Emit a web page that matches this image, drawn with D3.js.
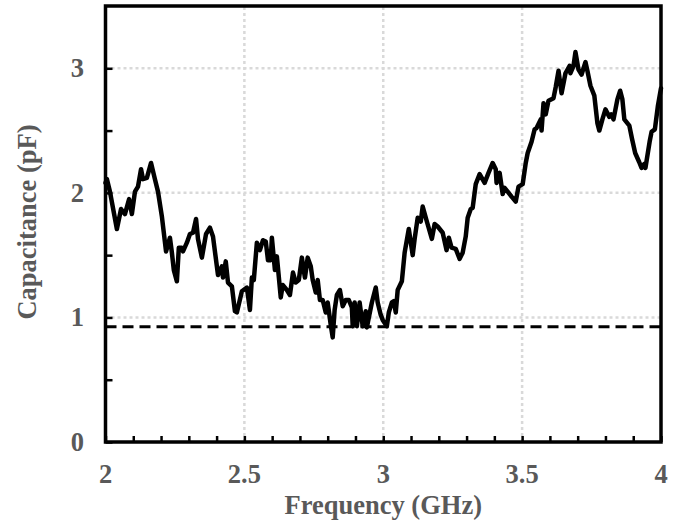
<!DOCTYPE html>
<html>
<head>
<meta charset="utf-8">
<script src="https://cdn.jsdelivr.net/npm/d3@7"></script>
<style>
  body { margin: 0; background: #fff; }
  svg { display: block; }
</style>
</head>
<body>
<div id="chart"></div>
<script>
// frequency samples (GHz)
const freqGHz = [
  2.000, 2.005, 2.016, 2.041, 2.056, 2.070, 2.085, 2.095, 2.106, 2.117,
  2.128, 2.135, 2.149, 2.164, 2.178, 2.189, 2.203, 2.218, 2.232, 2.239,
  2.246, 2.257, 2.264, 2.275, 2.279, 2.293, 2.304, 2.315, 2.326, 2.333,
  2.347, 2.362, 2.376, 2.387, 2.405, 2.419, 2.423, 2.433, 2.441, 2.455,
  2.466, 2.473, 2.491, 2.509, 2.520, 2.527, 2.534, 2.545, 2.556, 2.567,
  2.577, 2.585, 2.595, 2.599, 2.610, 2.617, 2.631, 2.638, 2.653, 2.664,
  2.675, 2.685, 2.696, 2.707, 2.718, 2.728, 2.739, 2.746, 2.757, 2.764,
  2.772, 2.782, 2.793, 2.800, 2.811, 2.818, 2.825, 2.833, 2.844, 2.854,
  2.865, 2.876, 2.887, 2.890, 2.897, 2.905, 2.915, 2.926, 2.937, 2.941,
  2.959, 2.973, 2.980, 2.991, 2.998, 3.013, 3.020, 3.031, 3.038, 3.045,
  3.052, 3.067, 3.077, 3.092, 3.106, 3.113, 3.124, 3.135, 3.142, 3.157,
  3.175, 3.185, 3.196, 3.214, 3.228, 3.236, 3.246, 3.261, 3.275, 3.286,
  3.297, 3.304, 3.315, 3.322, 3.333, 3.347, 3.365, 3.379, 3.394, 3.405,
  3.408, 3.419, 3.430, 3.437, 3.448, 3.462, 3.477, 3.487, 3.502, 3.513,
  3.520, 3.534, 3.545, 3.552, 3.567, 3.570, 3.577, 3.585, 3.595, 3.613,
  3.621, 3.631, 3.642, 3.656, 3.671, 3.674, 3.685, 3.692, 3.703, 3.714,
  3.728, 3.735, 3.746, 3.760, 3.771, 3.778, 3.789, 3.800, 3.814, 3.821,
  3.829, 3.843, 3.853, 3.861, 3.868, 3.886, 3.896, 3.907, 3.921, 3.930,
  3.939, 3.944, 3.959, 3.966, 3.978, 3.989, 4.000
];

// measured capacitance (pF)
const capacitancePF = [
  2.08, 2.11, 2.01, 1.71, 1.87, 1.83, 1.95, 1.83, 2.01, 2.05,
  2.19, 2.11, 2.12, 2.24, 2.11, 2.01, 1.81, 1.53, 1.64, 1.52,
  1.38, 1.29, 1.56, 1.56, 1.53, 1.60, 1.67, 1.68, 1.79, 1.63,
  1.48, 1.67, 1.72, 1.65, 1.34, 1.41, 1.32, 1.45, 1.28, 1.25,
  1.05, 1.04, 1.21, 1.24, 1.06, 1.32, 1.30, 1.60, 1.54, 1.62,
  1.61, 1.46, 1.46, 1.64, 1.38, 1.49, 1.16, 1.26, 1.22, 1.18,
  1.36, 1.28, 1.30, 1.48, 1.32, 1.48, 1.41, 1.30, 1.20, 1.30,
  1.14, 1.14, 1.04, 1.12, 0.94, 0.84, 1.06, 1.18, 1.22, 1.09,
  1.14, 1.14, 1.08, 0.93, 1.12, 0.93, 1.12, 0.93, 1.05, 0.92,
  1.12, 1.24, 1.12, 1.02, 0.98, 0.93, 1.04, 1.12, 1.13, 1.04,
  1.22, 1.29, 1.52, 1.71, 1.50, 1.63, 1.80, 1.77, 1.89, 1.77,
  1.63, 1.75, 1.73, 1.68, 1.54, 1.64, 1.56, 1.55, 1.47, 1.52,
  1.65, 1.80, 1.87, 1.88, 2.07, 2.15, 2.08, 2.16, 2.24, 2.19,
  2.08, 2.16, 1.99, 2.04, 2.01, 1.97, 1.93, 2.05, 2.07, 2.24,
  2.32, 2.41, 2.51, 2.52, 2.59, 2.50, 2.72, 2.63, 2.74, 2.76,
  2.85, 2.98, 2.80, 2.96, 3.02, 2.96, 3.02, 3.13, 2.99, 2.95,
  3.05, 2.98, 2.86, 2.78, 2.56, 2.50, 2.59, 2.67, 2.61, 2.63,
  2.59, 2.75, 2.82, 2.75, 2.59, 2.54, 2.43, 2.32, 2.25, 2.20,
  2.23, 2.20, 2.41, 2.49, 2.51, 2.70, 2.84
];

// reference level shown dashed
const thresholdPF = 0.925;

const xTickValues = [2, 2.5, 3, 3.5, 4];
const xTickLabels = ['2', '2.5', '3', '3.5', '4'];
const xMinorTicks = d3.range(20, 41).map(d => d / 10);
const xGridValues = [2.5, 3, 3.5];

const yTickValues = [0, 1, 2, 3];
const yTickLabels = ['0', '1', '2', '3'];
const yMinorTicks = [0, 0.5, 1, 1.5, 2, 2.5, 3];
const yGridValues = [1, 2, 3];

const width = 682;
const height = 529;
const margin = {top: 6, right: 21, bottom: 87, left: 105.5};
const labelFont = '"Liberation Serif", "Times New Roman", serif';
const labelColor = '#595959';

const svg = d3.select('#chart')
  .append('svg')
  .attr('width', width)
  .attr('height', height);

const x = d3.scaleLinear()
  .domain([2, 4])
  .range([margin.left, width - margin.right]);

const y = d3.scaleLinear()
  .domain([0, 3.5])
  .range([height - margin.bottom, margin.top]);

// dotted grid
const grid = svg.append('g')
  .attr('stroke', '#d9d9d9')
  .attr('stroke-width', 2.5)
  .attr('stroke-dasharray', '3,3');

grid.selectAll('.gx')
  .data(xGridValues)
  .enter()
  .append('line')
  .attr('x1', d => x(d))
  .attr('x2', d => x(d))
  .attr('y1', y(0))
  .attr('y2', y(3.5));

grid.selectAll('.gy')
  .data(yGridValues)
  .enter()
  .append('line')
  .attr('x1', x(2))
  .attr('x2', x(4))
  .attr('y1', d => y(d))
  .attr('y2', d => y(d));

// dashed reference line
svg.append('line')
  .attr('x1', x(2))
  .attr('x2', x(4))
  .attr('y1', y(thresholdPF))
  .attr('y2', y(thresholdPF))
  .attr('stroke', '#000')
  .attr('stroke-width', 3)
  .attr('stroke-dasharray', '11,6');

// measured trace
const points = freqGHz.map((f, i) => [f, capacitancePF[i]]);
const line = d3.line()
  .x(d => x(d[0]))
  .y(d => y(d[1]));

svg.append('path')
  .datum(points)
  .attr('d', line)
  .attr('fill', 'none')
  .attr('stroke', '#000')
  .attr('stroke-width', 4.5)
  .attr('stroke-linejoin', 'round')
  .attr('stroke-linecap', 'round');

// inward ticks
const xAxis = d3.axisBottom(x)
  .tickValues(xMinorTicks)
  .tickSize(-6)
  .tickFormat('');

svg.append('g')
  .attr('transform', `translate(0,${y(0)})`)
  .call(xAxis)
  .call(g => g.select('.domain').remove())
  .call(g => g.selectAll('line').attr('stroke', '#000').attr('stroke-width', 2.5));

const yAxis = d3.axisLeft(y)
  .tickValues(yMinorTicks)
  .tickSize(-7)
  .tickFormat('');

svg.append('g')
  .attr('transform', `translate(${x(2)},0)`)
  .call(yAxis)
  .call(g => g.select('.domain').remove())
  .call(g => g.selectAll('line').attr('stroke', '#000').attr('stroke-width', 2.5));

// frame
svg.append('rect')
  .attr('x', x(2))
  .attr('y', y(3.5))
  .attr('width', x(4) - x(2))
  .attr('height', y(0) - y(3.5))
  .attr('fill', 'none')
  .attr('stroke', '#000')
  .attr('stroke-width', 3.5);

// tick labels
svg.append('g')
  .selectAll('text')
  .data(xTickValues)
  .enter()
  .append('text')
  .attr('x', d => x(d))
  .attr('y', 483)
  .attr('text-anchor', 'middle')
  .attr('font-family', labelFont)
  .attr('font-weight', 'bold')
  .attr('font-size', 26.5)
  .attr('fill', labelColor)
  .text((d, i) => xTickLabels[i]);

svg.append('g')
  .selectAll('text')
  .data(yTickValues)
  .enter()
  .append('text')
  .attr('x', 84)
  .attr('y', d => y(d))
  .attr('dy', '0.33em')
  .attr('text-anchor', 'end')
  .attr('font-family', labelFont)
  .attr('font-weight', 'bold')
  .attr('font-size', 26.5)
  .attr('fill', labelColor)
  .text((d, i) => yTickLabels[i]);

// axis titles
svg.append('text')
  .attr('x', (x(2) + x(4)) / 2)
  .attr('y', 514)
  .attr('text-anchor', 'middle')
  .attr('font-family', labelFont)
  .attr('font-weight', 'bold')
  .attr('font-size', 26.5)
  .attr('fill', labelColor)
  .text('Frequency (GHz)');

svg.append('text')
  .attr('transform', `translate(36,${(y(0) + y(3.5)) / 2 - 2}) rotate(-90)`)
  .attr('text-anchor', 'middle')
  .attr('font-family', labelFont)
  .attr('font-weight', 'bold')
  .attr('font-size', 26.5)
  .attr('fill', labelColor)
  .text('Capacitance (pF)');
</script>
</body>
</html>
